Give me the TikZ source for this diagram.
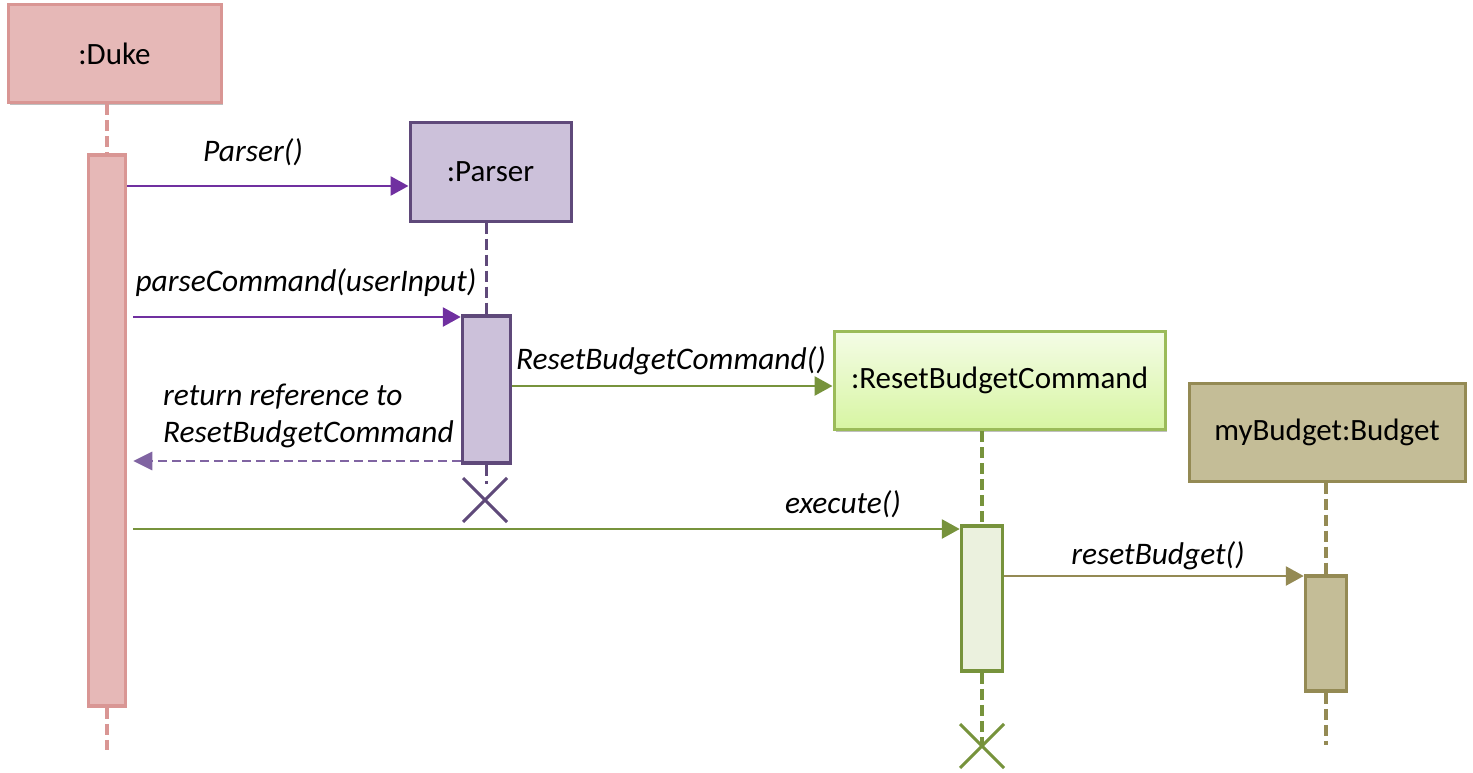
\documentclass[tikz,border=0pt]{standalone}
\usepackage{fontspec}
\setmainfont{Carlito}
\usetikzlibrary{arrows.meta,shadows,calc}
\definecolor{dukeFill}{HTML}{E6B8B7}
\definecolor{dukeDraw}{HTML}{D99694}
\definecolor{parFill}{HTML}{CCC1DA}
\definecolor{parDraw}{HTML}{5F497A}
\definecolor{rbcTop}{HTML}{F4FCE6}
\definecolor{rbcBot}{HTML}{D7F5A2}
\definecolor{rbcDraw}{HTML}{9BBB59}
\definecolor{rbcActFill}{HTML}{EBF1DE}
\definecolor{green}{HTML}{77933C}
\definecolor{budFill}{HTML}{C4BD97}
\definecolor{budDraw}{HTML}{948A54}
\definecolor{purp}{HTML}{7030A0}
\definecolor{retPurp}{HTML}{8064A2}
\begin{document}
\begin{tikzpicture}[x=1pt,y=-1pt,
  obj/.style={rectangle, line width=3pt, inner sep=0pt, font=\fontsize{31}{37}\selectfont,
    drop shadow={shadow xshift=2pt, shadow yshift=-2pt, opacity=0.25, fill=black}},
  act/.style={rectangle, line width=3.5pt, inner sep=0pt},
  life/.style={line width=3.5pt, dash pattern=on 11pt off 5pt},
  msg/.style={line width=2.8pt, -{Triangle[length=18pt,width=19pt]}},
  lbl/.style={font=\fontsize{31.4}{37}\selectfont\itshape, inner sep=0pt},
  xmark/.style={line width=3pt}
]
\useasboundingbox (0,0) rectangle (1473,773);

% object boxes
\node[obj, fill=dukeFill, draw=dukeDraw, minimum width=213pt, minimum height=98pt] (duke) at (114.5,54) {:Duke};
\node[obj, fill=parFill, draw=parDraw, minimum width=161pt, minimum height=98pt] (parser) at (490.5,172) {:Parser};
\node[obj, top color=rbcTop, bottom color=rbcBot, draw=rbcDraw, minimum width=331pt, minimum height=98pt] (rbc) at (999.5,380.5) {:ResetBudgetCommand};
\node[obj, fill=budFill, draw=budDraw, minimum width=276pt, minimum height=98pt] (bud) at (1327,432) {myBudget:Budget};

% activation boxes
\node[act, fill=dukeFill, draw=dukeDraw, minimum width=37pt, minimum height=551pt] (dukeAct) at (107,430.5) {};
\node[act, fill=parFill, draw=parDraw, minimum width=48pt, minimum height=147pt] (parAct) at (486.5,389.5) {};
\node[act, fill=rbcActFill, draw=green, minimum width=41pt, minimum height=145pt] (rbcAct) at (982,598.5) {};
\node[act, fill=budFill, draw=budDraw, minimum width=41pt, minimum height=115pt] (budAct) at (1326,633.5) {};

% lifeline ends
\coordinate (dukeEnd) at (107,750);
\coordinate (parEnd) at (486.5,484);
\coordinate (rbcEnd) at (982,745);
\coordinate (budEnd) at (1326,745);

% lifelines
\draw[life, dukeDraw] (duke.south -| dukeAct.north) -- (dukeAct.north);
\draw[life, dukeDraw] (dukeAct.south) -- (dukeEnd);
\draw[life, parDraw] (parser.south -| parAct.north) -- (parAct.north);
\draw[life, parDraw] (parAct.south) -- (parEnd);
\draw[life, green] (rbc.south -| rbcAct.north) -- (rbcAct.north);
\draw[life, green] (rbcAct.south) -- (rbcEnd);
\draw[life, budDraw] (bud.south -| budAct.north) -- (budAct.north);
\draw[life, budDraw] (budAct.south) -- (budEnd);

% destruction marks
\coordinate (parX) at (485,500);
\coordinate (rbcX) at (982,746);
\draw[xmark, parDraw] ($(parX)+(-22,-22)$) -- ($(parX)+(22,22)$) ($(parX)+(22,-22)$) -- ($(parX)+(-22,22)$);
\draw[xmark, green] ($(rbcX)+(-22,-22)$) -- ($(rbcX)+(22,22)$) ($(rbcX)+(22,-22)$) -- ($(rbcX)+(-22,22)$);

% messages
\draw[msg, purp] (dukeAct.east |- 0,186) -- (parser.west |- 0,186);
\draw[msg, purp] ([xshift=6pt]dukeAct.east |- 0,317) -- (parAct.west |- 0,317);
\draw[msg, green] (parAct.east |- 0,386) -- (rbc.west |- 0,386);
\draw[msg, retPurp, dash pattern=on 9pt off 5pt, -{Triangle[length=19pt,width=18pt]}] (parAct.west |- 0,461) -- ([xshift=6pt]dukeAct.east |- 0,461);
\draw[msg, green] ([xshift=6pt]dukeAct.east |- 0,529) -- (rbcAct.west |- 0,529);
\draw[msg, budDraw] (rbcAct.east |- 0,576) -- (budAct.west |- 0,576);

% labels
\node[lbl] (l1) at (253,152) {Parser()};
\node[lbl] (l2) at (306,283) {parseCommand(userInput)};
\node[lbl] (l3) at (671,361) {ResetBudgetCommand()};
\node[lbl, align=left, anchor=west] (l4) at (163,416) {return reference to\\ResetBudgetCommand};
\node[lbl] (l5) at (843,504) {execute()};
\node[lbl] (l6) at (1158,556) {resetBudget()};
\end{tikzpicture}
\end{document}
